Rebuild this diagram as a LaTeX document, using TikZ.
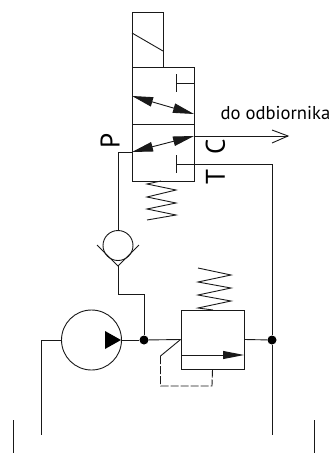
\documentclass[tikz,border=0pt]{standalone}
\usepackage{fontspec}
\setmainfont{PT Sans}
\usepackage{tikz}
\usetikzlibrary{calc,arrows.meta}
\tikzset{
  line/.style={draw,line width=0.9pt,black!90},
  solid tip/.style={{Triangle[length=21pt,width=9.5pt]}-{Triangle[length=21pt,width=9.5pt]}},
  dot/.style={circle,fill=black,inner sep=0pt,minimum size=9pt},
  port/.style={font=\fontsize{27}{27}\selectfont,rotate=90,inner sep=0pt},
}

\begin{document}
\begin{tikzpicture}[x=1pt,y=-1pt,line join=miter]
\useasboundingbox (0,0) rectangle (334,453);

% Solenoid
\draw[line] (132,67) -- (132,12) -- (163,12) -- (163,67);
\draw[line] (132,33) -- (163,51);

% Valve body
\draw[line] (132,67) rectangle (194,181);
\draw[line] (132,124) -- (194,124);
\coordinate (portP) at (132,152);
\coordinate (portC) at (194,136);
\coordinate (portT) at (176,164);
\draw[line,solid tip] (132,96) -- (194,114);
\draw[line,solid tip] (portP) -- (portC);
\draw[line] (194,83) -- (176,83);
\draw[line] (176,74) -- (176,92);
\draw[line] (176,155) -- (176,173);

% Valve spring
\draw[line] (161,181) -- (147,184) -- (176,190) -- (147,197) -- (176,203) -- (147,209) -- (176,215) -- (147,220);

% Output line
\coordinate (outlet) at (288,136);
\draw[line] (portC) -- (outlet);
\draw[line] (272,130) -- (outlet) -- (272,143);

% Labels
\node (lblOut) at (275.5,113) {\fontsize{18.6}{18.6}\selectfont do odbiornika};
\node[port] (lblP) at (110,141) {P};
\node[port] (lblC) at (215.5,146.5) {C};
\node[port] (lblT) at (215.5,177) {T};

% Junctions
\node[dot] (juncL) at (144,340) {};
\node[dot] (juncR) at (272,340) {};

% Return line
\coordinate (tankR) at (272,435);
\draw[line] (portT) -- (juncR |- portT) -- (juncR) -- (tankR);

% Check valve
\node[draw,circle,line width=0.9pt,black!90,minimum size=30pt,inner sep=0pt] (check) at (118,245.5) {};
\coordinate (seat) at (118,266);
\draw[line] (portP) -- (check.center |- portP) -- (check.north);
\draw[line] (97,245) -- (seat) -- (139,245);
\draw[line] (seat) -- (118,294) -- (juncL |- 0,294) -- (juncL);

% Pump
\node[draw,circle,line width=0.9pt,black!90,minimum size=60pt,inner sep=0pt] (pump) at (91.5,340) {};
\fill[black] (105,331) -- (121,340) -- (105,349) -- cycle;
\coordinate (tankL) at (41,435);
\draw[line] (pump.west) -- (tankL |- pump.west) -- (tankL);
\draw[line] (pump.east) -- (juncL);

% Relief valve
\node[draw,line width=0.9pt,black!90,minimum width=63pt,minimum height=59pt,inner sep=0pt] (relief) at (212.5,339.5) {};
\draw[line] (juncL) -- (relief.west);
\draw[line] (relief.east) -- (juncR);
\draw[line,-{Triangle[length=21pt,width=8pt]}] (181,355) -- (244,355);
\draw[line] (198,268) -- (231,275) -- (198,282) -- (231,288) -- (198,295) -- (231,301) -- (198,308) -- (213,310);

% Pilot line
\draw[line] (relief.west) -- (160.5,356);
\draw[line,dash pattern=on 8pt off 2pt] (160.5,356) -- (160.5,386) -- (212,386) -- (relief.south);

% Tank
\draw[line] (13,420) -- (13,453);
\draw[line] (314,420) -- (314,453);

\end{tikzpicture}
\end{document}
